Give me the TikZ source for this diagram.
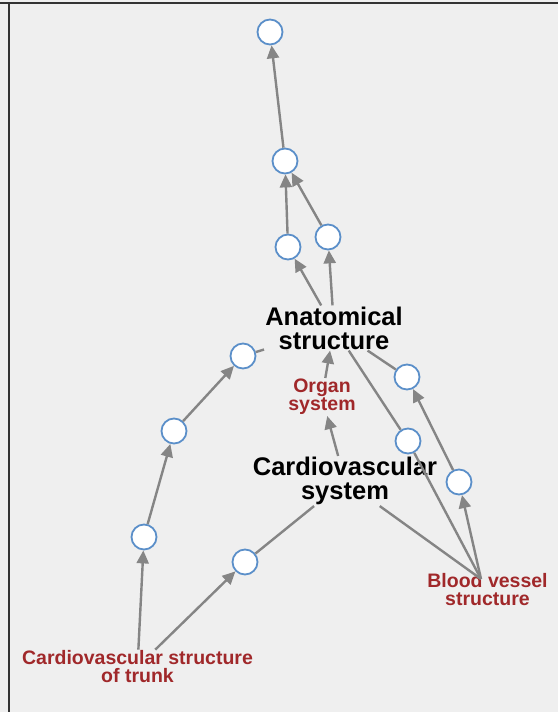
\documentclass[tikz,border=0pt]{standalone}
\usepackage{fontspec}
\setmainfont{Liberation Sans}
\usetikzlibrary{arrows.meta}
\definecolor{bgc}{HTML}{EFEFEF}
\definecolor{frameline}{HTML}{333333}
\definecolor{nodeblue}{HTML}{5B8FC9}
\definecolor{edgegray}{HTML}{858585}
\definecolor{labelred}{HTML}{A0282A}
\begin{document}
\begin{tikzpicture}[x=1pt,y=-1pt,
  circ/.style={circle,draw=nodeblue,fill=white,line width=1.8pt,minimum size=25pt,inner sep=0pt},
  edge/.style={draw=edgegray,line width=2.4pt},
  arr/.style={edge,-{Triangle[length=13pt,width=12pt]}},
  bigl/.style={font=\fontsize{25.5}{24}\selectfont\bfseries,align=center,inner sep=1pt,text=black},
  redl/.style={font=\fontsize{19.5}{18}\selectfont\bfseries,align=center,inner sep=1pt,text=labelred}]
\useasboundingbox (0,0) rectangle (558,712);
\fill[bgc] (0,0) rectangle (558,712);
\draw[frameline,line width=2pt] (0,3) -- (558,3);
\draw[frameline,line width=2pt] (9,3) -- (9,712);

% labels
\node[bigl] (AS) at (334,328) {Anatomical\\structure};
\node[bigl] (CS) at (345,481) {Cardiovascular\\system};
\node[redl] (OS) at (322,397) {Organ\\system};
\node[redl] (CT) at (137.5,667) {Cardiovascular structure\\of trunk};
\node[redl] (BVl) at (487.5,590) {Blood vessel\\structure};
\coordinate (BV) at (481,579);

% circles
\node[circ] (n1) at (270,32) {};
\node[circ] (n2) at (285,161) {};
\node[circ] (n3) at (288,247) {};
\node[circ] (n4) at (328,237) {};
\node[circ] (n5) at (243,356) {};
\node[circ] (n6) at (407,377) {};
\node[circ] (n7) at (408,441) {};
\node[circ] (n8) at (174,431) {};
\node[circ] (n9) at (459,482) {};
\node[circ] (n10) at (144,537) {};
\node[circ] (n11) at (245,562) {};

% edges
\draw[arr] (n2) -- (n1);
\draw[arr] (n3) -- (n2);
\draw[arr] (n4) -- (n2);
\draw[arr] (AS) -- (n3);
\draw[arr] (AS) -- (n4);
\draw[edge] (n5) -- (AS);
\draw[edge] (n6) -- (AS);
\draw[edge] (n7) -- (AS);
\draw[arr] (OS) -- (AS);
\draw[arr] (CS) -- (OS);
\draw[edge] (n11) -- (CS);
\draw[edge] (BV) -- (CS);
\draw[edge] (BV) -- (n7);
\draw[arr] (BV) -- (n9);
\draw[arr] (n9) -- (n6);
\draw[arr] (CT) -- (n10);
\draw[arr] (CT) -- (n11);
\draw[arr] (n10) -- (n8);
\draw[arr] (n8) -- (n5);
\end{tikzpicture}
\end{document}
